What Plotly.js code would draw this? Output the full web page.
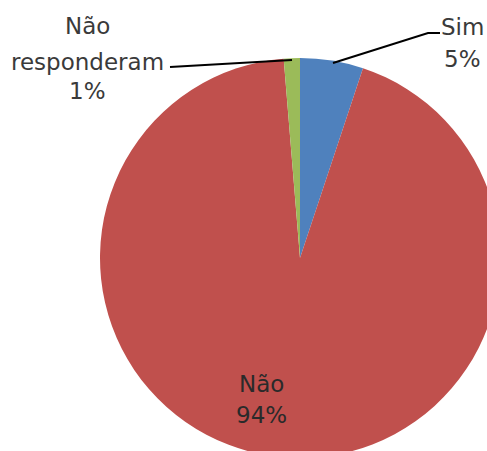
<!DOCTYPE html>
<html>
<head>
<meta charset="utf-8">
<script src="https://cdn.plot.ly/plotly-3.0.1.min.js"></script>
<style>
html,body{margin:0;padding:0;overflow:hidden;background:#fff;width:487px;height:451px;}
#chart{width:520px;height:470px;}
</style>
</head>
<body>
<div id="chart"></div>
<script>
const labels = ["Sim", "Não", "Não responderam"];
const values = [5.1, 93.6, 1.3];
const percentText = ["5%", "94%", "1%"];
const colors = ["#4F81BD", "#C0504D", "#9BBB59"];

const W = 520, H = 470;
const px = x => x / W;
const py = y => 1 - y / H;

const fontOut = {family: "DejaVu Sans", size: 23, color: "#3a3a3a"};
const fontIn = {family: "DejaVu Sans", size: 23, color: "#2a2a2a"};

const data = [{
  type: "pie",
  labels: labels,
  values: values,
  marker: {colors: colors, line: {color: "#ffffff", width: 0}},
  sort: false,
  direction: "clockwise",
  rotation: 0,
  textinfo: "none",
  hoverinfo: "label+percent",
  domain: {x: [px(100), px(500)], y: [py(458), py(58)]}
}];

// label line blocks: [lines, centerX, center Y of each line, font]
const blocks = [
  [[labels[0], percentText[0]], 462, [27, 59], fontOut],
  [[labels[1], percentText[1]], 261, [384, 415], fontIn],
  [["Não", "responderam", percentText[2]], 87, [26, 62, 91], fontOut]
];
const annotations = [];
blocks.forEach(b => {
  b[0].forEach((t, j) => {
    annotations.push({
      xref: "paper", yref: "paper",
      x: px(b[1]), y: py(b[2][j]),
      text: t, showarrow: false, font: b[3],
      xanchor: "center", yanchor: "middle", align: "center"
    });
  });
});

const shapes = [
  {type: "path", xref: "paper", yref: "paper",
   path: `M ${px(333)} ${py(63)} L ${px(428)} ${py(33)} L ${px(440)} ${py(33)}`,
   line: {color: "#000", width: 2}},
  {type: "path", xref: "paper", yref: "paper",
   path: `M ${px(170)} ${py(67)} L ${px(292)} ${py(60)}`,
   line: {color: "#000", width: 2}}
];

const layout = {
  width: W, height: H,
  margin: {l: 0, r: 0, t: 0, b: 0},
  paper_bgcolor: "#ffffff",
  showlegend: false,
  annotations: annotations,
  shapes: shapes
};

Plotly.newPlot("chart", data, layout, {displayModeBar: false, staticPlot: true});
</script>
</body>
</html>
